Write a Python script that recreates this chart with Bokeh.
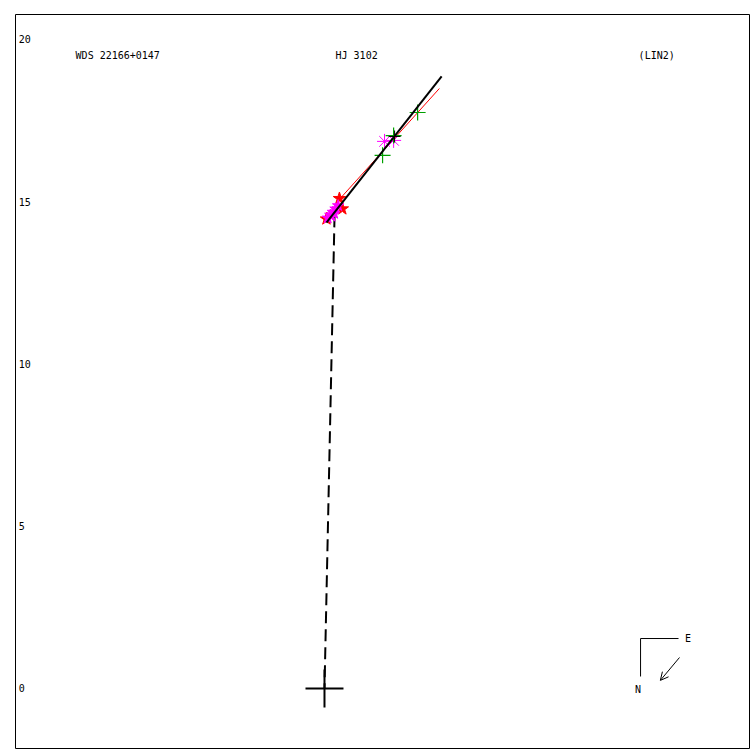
from bokeh.plotting import figure
from bokeh.embed import file_html
from bokeh.resources import INLINE
from bokeh.models import Range1d, Arrow, OpenHead
from bokeh.core.properties import value

# ---- data (arcsec) ----
tick_vals = [0, 5, 10, 15, 20]
tick_labels = ["0", "5", "10", "15", "20"]

orbit_x = [0.06, 3.61]
orbit_y = [14.36, 18.86]
fit_x = [0.43, 3.54]
fit_y = [15.04, 18.49]
dash_x = [0.31, 0.0]
dash_y = [14.58, 0.0]

red_star_x = [0.46, 0.06, 0.55]
red_star_y = [15.10, 14.47, 14.78]
mag_star_x = [0.10, 0.18, 0.26, 0.34, 0.42, 0.22, 0.30]
mag_star_y = [14.50, 14.59, 14.68, 14.78, 14.88, 14.55, 14.64]
mag_ast_x = [1.85, 2.13]
mag_ast_y = [16.86, 16.89]
green_x = [1.79, 2.13, 2.87]
green_y = [16.43, 17.04, 17.75]
black_x = [2.16]
black_y = [17.01]

title_left = "WDS 22166+0147"
title_mid = "HJ 3102"
title_right = "(LIN2)"

W, H = 750, 750
p = figure(width=W, height=H, output_backend="svg", toolbar_location=None,
           x_range=Range1d(-9.522, 13.128), y_range=Range1d(-1.849, 20.77),
           min_border_left=15, min_border_top=14, min_border_right=0, min_border_bottom=2)
p.xaxis.visible = False
p.yaxis.visible = False
p.xgrid.visible = False
p.ygrid.visible = False
p.outline_line_color = "black"
p.outline_line_width = 1
p.background_fill_color = "white"

font = value("DejaVu Sans Mono")

# tick labels inside frame
p.text(x=[-9.42] * len(tick_vals), y=tick_vals, text=tick_labels, text_font=font,
       text_font_size="10px", text_baseline="middle", text_align="left", text_color="black")

# titles
p.text(x=[-7.67], y=[19.51], text=[title_left], text_font=font, text_font_size="10px",
       text_baseline="middle", text_align="left")
p.text(x=[0.34], y=[19.51], text=[title_mid], text_font=font, text_font_size="10px",
       text_baseline="middle", text_align="left")
p.text(x=[9.68], y=[19.51], text=[title_right], text_font=font, text_font_size="10px",
       text_baseline="middle", text_align="left")

# dashed line to primary
p.line(dash_x, dash_y, line_color="black", line_width=2, line_dash="12 6")
# fitted line red
p.line(fit_x, fit_y, line_color="red", line_width=1)

# observations
p.scatter(red_star_x, red_star_y, marker="star", size=13, fill_color="red", line_color="red")
p.scatter(mag_star_x, mag_star_y, marker="star", size=12, fill_color="magenta",
          line_color="magenta")
p.scatter(mag_ast_x, mag_ast_y, marker="asterisk", size=15, line_color="magenta", line_width=1)
p.scatter(green_x, green_y, marker="cross", size=16, line_color="#00a000", line_width=1.2)

# orbit black
p.line(orbit_x, orbit_y, line_color="black", line_width=2)
p.scatter(black_x, black_y, marker="cross", size=12, line_color="black", line_width=1)

# primary cross
p.scatter([0], [0], marker="cross", size=38, line_color="black", line_width=2)

# compass
cx, cy, L = 9.74, 1.54, 1.17
p.segment(x0=[cx, cx], y0=[cy, cy], x1=[cx + L, cx], y1=[cy, cy - L], line_color="black",
          line_width=1)
p.text(x=[cx + L + 0.2], y=[cy], text=["E"], text_font=font, text_font_size="10px",
       text_baseline="middle", text_align="left")
p.text(x=[cx - 0.08], y=[cy - L - 0.4], text=["N"], text_font=font, text_font_size="10px",
       text_baseline="middle", text_align="center")
p.add_layout(Arrow(end=OpenHead(size=8, line_width=1), x_start=10.94, y_start=0.955,
                   x_end=10.35, y_end=0.25, line_width=1))

open("out.html", "w").write(file_html(p, INLINE))
